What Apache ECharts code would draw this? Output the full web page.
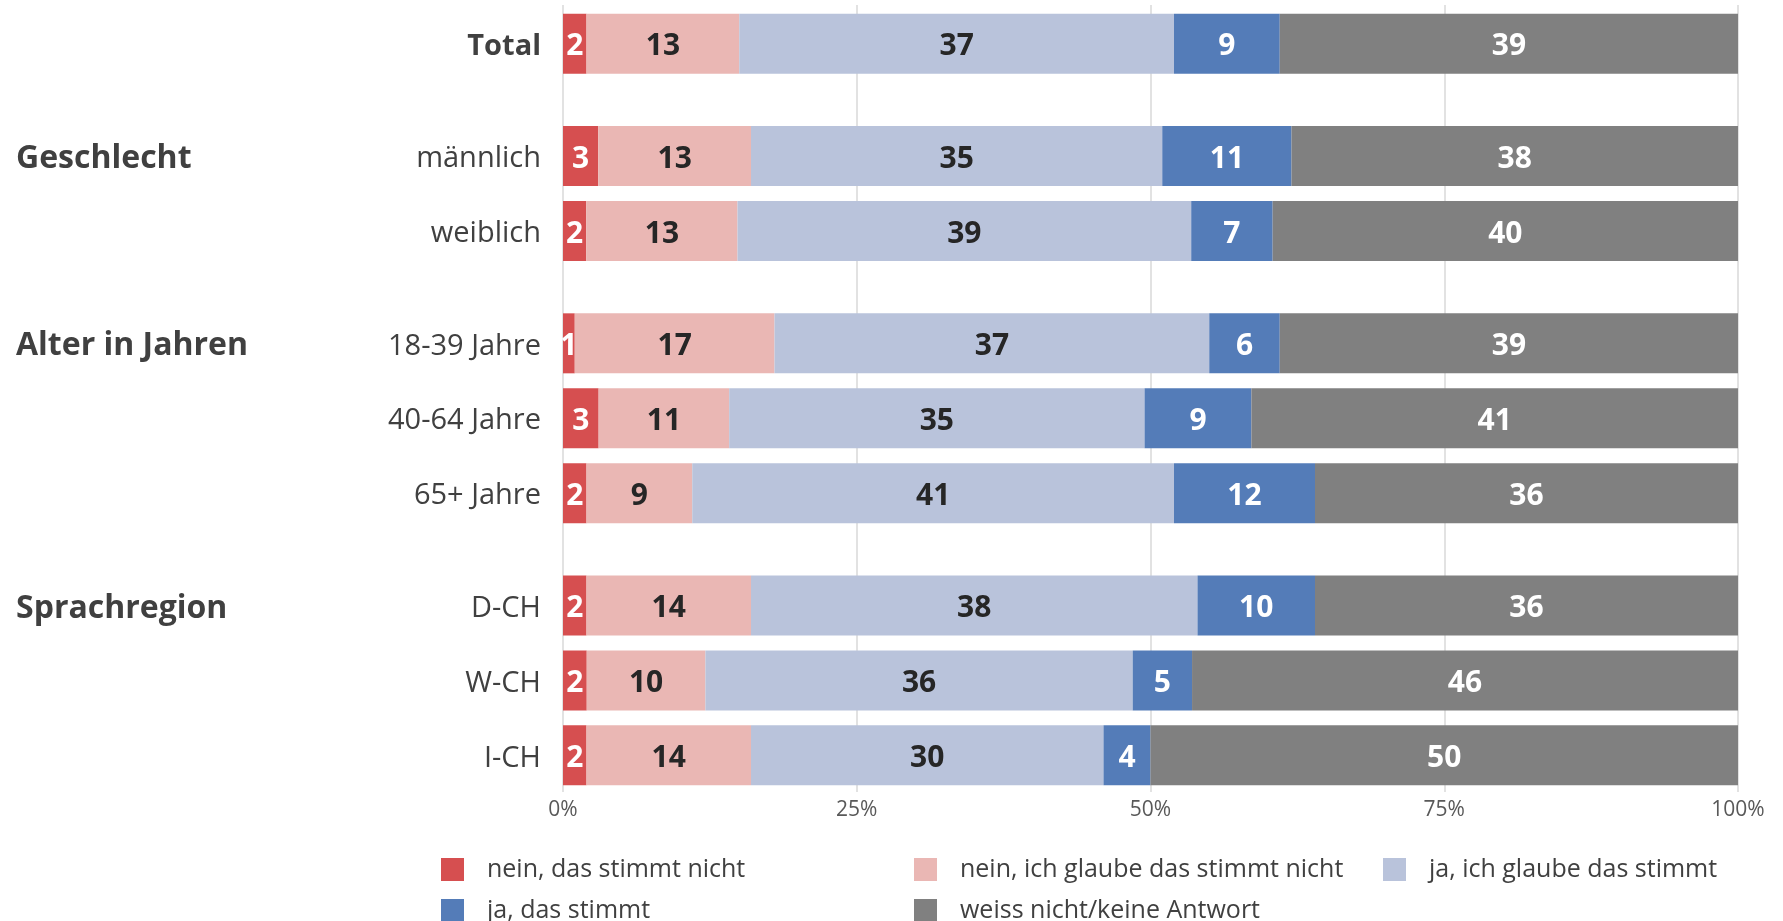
<!DOCTYPE html>
<html lang="de">
<head>
  <meta charset="UTF-8">
  <title>Umfrage</title>
  <script src="https://cdn.jsdelivr.net/npm/echarts@6/dist/echarts.min.js"></script>
  <style>
    html, body { margin: 0; padding: 0; background: #fff; }
  </style>
</head>
<body>
<div id="main" style="width: 1783px;height:921px;"></div>
<script type="text/javascript">

// Gruppen und Zeilen
var groups = [
  { name: '', rows: ['Total'] },
  { name: 'Geschlecht', rows: ['männlich', 'weiblich'] },
  { name: 'Alter in Jahren', rows: ['18-39 Jahre', '40-64 Jahre', '65+ Jahre'] },
  { name: 'Sprachregion', rows: ['D-CH', 'W-CH', 'I-CH'] }
];

var answers = [
  'nein, das stimmt nicht',
  'nein, ich glaube das stimmt nicht',
  'ja, ich glaube das stimmt',
  'ja, das stimmt',
  'weiss nicht/keine Antwort'
];

// Werte pro Antwort, in Zeilenreihenfolge (Total ... I-CH)
var neinStimmtNicht   = [2, 3, 2, 1, 3, 2, 2, 2, 2];
var neinGlaubeNicht   = [13, 13, 13, 17, 11, 9, 14, 10, 14];
var jaGlaube          = [37, 35, 39, 37, 35, 41, 38, 36, 30];
var jaStimmt          = [9, 11, 7, 6, 9, 12, 10, 5, 4];
var weissNicht        = [39, 38, 40, 39, 41, 36, 36, 46, 50];

var xTicks = [0, 25, 50, 75, 100];

var colors = ['#D64F50', '#EAB7B4', '#B9C3DB', '#547CB8', '#808080'];
var labelColors = ['#ffffff', '#262626', '#262626', '#ffffff', '#ffffff'];

var values = [neinStimmtNicht, neinGlaubeNicht, jaGlaube, jaStimmt, weissNicht];

// Kategorien mit Leerplätzen: eine Lücke zwischen Zeilen, zwei zwischen Gruppen
var slots = [];
var groupSlots = [];
var rowSlot = [];
groups.forEach(function (g, gi) {
  if (gi > 0) { slots.push(''); groupSlots.push(''); slots.push(''); groupSlots.push(''); }
  g.rows.forEach(function (r, ri) {
    if (ri > 0) { slots.push(''); groupSlots.push(''); }
    rowSlot.push(slots.length);
    slots.push(r);
    groupSlots.push(ri === 0 ? g.name : '');
  });
});

var rowSums = rowSlot.map(function (s, i) {
  return values.reduce(function (acc, arr) { return acc + arr[i]; }, 0);
});

var FONT = "'Segoe UI', 'Open Sans', sans-serif";

var series = answers.map(function (name, k) {
  var data = slots.map(function () { return '-'; });
  rowSlot.forEach(function (s, i) {
    data[s] = { value: values[k][i] / rowSums[i] * 100, raw: values[k][i] };
  });
  return {
    name: name,
    type: 'bar',
    stack: 'all',
    xAxisIndex: 1,
    yAxisIndex: 1,
    barWidth: 60,
    clip: false,
    itemStyle: { color: colors[k] },
    label: {
      show: true,
      position: 'inside',
      offset: [0, 3],
      fontFamily: FONT,
      fontWeight: 'bold',
      fontSize: 30,
      color: labelColors[k],
      formatter: function (p) { return p.data.raw; }
    },
    data: data
  };
});

var myChart = echarts.init(document.getElementById('main'));

// eine Legende pro Eintrag, drei Spalten, zwei Zeilen
var legendPos = [
  { left: 436, top: 852 },
  { left: 909, top: 852 },
  { left: 1378, top: 852 },
  { left: 436, top: 893 },
  { left: 909, top: 893 }
];

var legends = answers.map(function (name, i) {
  return {
    left: legendPos[i].left,
    top: legendPos[i].top,
    icon: 'rect',
    itemWidth: 23,
    itemHeight: 23,
    selectedMode: false,
    data: [name],
    textStyle: {
      fontFamily: FONT,
      fontSize: 25,
      color: '#404040',
      padding: [0, 0, 0, 18]
    }
  };
});

var option = {
  animation: false,
  backgroundColor: '#ffffff',
  legend: legends,
  grid: [
    // Hintergrund mit Gitterlinien und Achsenbeschriftung
    { left: 563, right: 45, top: 5, bottom: 129 },
    // Balken
    { left: 563, right: 45, top: 25, height: 749 }
  ],
  xAxis: [
    {
      gridIndex: 0,
      type: 'value',
      min: xTicks[0],
      max: xTicks[xTicks.length - 1],
      interval: 25,
      axisLine: { show: false },
      axisTick: { show: false },
      splitLine: { lineStyle: { color: '#d9d9d9', width: 1.5 } },
      axisLabel: {
        margin: 8,
        fontFamily: FONT,
        fontSize: 21,
        color: '#595959',
        formatter: '{value}%'
      }
    },
    {
      gridIndex: 1,
      type: 'value',
      min: 0,
      max: 100,
      show: false
    }
  ],
  yAxis: [
    { gridIndex: 0, type: 'value', min: 0, max: 1, show: false },
    {
      gridIndex: 1,
      type: 'category',
      inverse: true,
      data: slots,
      axisLine: { show: false },
      axisTick: { show: false },
      splitLine: { show: false },
      axisLabel: {
        interval: 0,
        margin: 22,
        padding: [6, 0, 0, 0],
        formatter: function (v) { return v === 'Total' ? '{b|' + v + '}' : '{n|' + v + '}'; },
        rich: {
          n: { fontFamily: FONT, fontSize: 29, lineHeight: 34, color: '#404040' },
          b: { fontFamily: FONT, fontSize: 29, lineHeight: 34, fontWeight: 'bold', color: '#404040' }
        }
      }
    },
    {
      gridIndex: 1,
      type: 'category',
      inverse: true,
      position: 'left',
      data: groupSlots,
      axisLine: { show: false },
      axisTick: { show: false },
      splitLine: { show: false },
      axisLabel: {
        interval: 0,
        margin: 547,
        align: 'left',
        padding: [6, 0, 0, 0],
        formatter: function (v) { return v ? '{g|' + v + '}' : ''; },
        rich: {
          g: { fontFamily: FONT, fontSize: 32, lineHeight: 36, fontWeight: 'bold', color: '#404040' }
        }
      }
    }
  ],
  series: series
};

myChart.setOption(option);

</script>
</body>
</html>
